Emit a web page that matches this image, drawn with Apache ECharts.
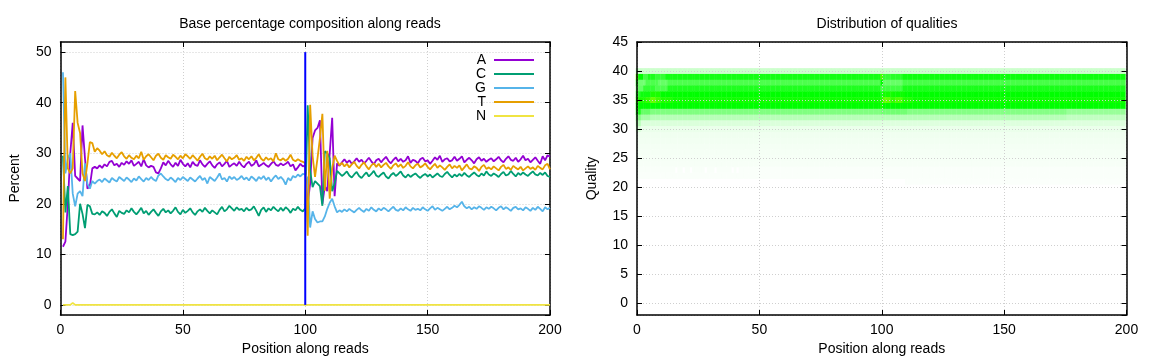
<!DOCTYPE html>
<html><head><meta charset="utf-8">
<script src="https://cdn.jsdelivr.net/npm/echarts@6/dist/echarts.min.js"></script>
<style>html,body{margin:0;padding:0;background:#fff}#c{width:1152px;height:360px}</style>
</head><body><div id="c"></div>
<script>
// ---------- Base composition data (positions 1..200) ----------
const firstPosition = 1;
const baseNames = ['A', 'C', 'G', 'T', 'N'];
const readBoundary = [100];

const baseA = [
11.5,12.5,20,30,36,25.5,25,24.5,35.5,29,23,23.5,27,27.3,27,
27.6,27.1,27.8,27.4,28.3,28.5,27.6,27.9,27.3,28.1,27.7,28.4,27.9,28.6,27.5,
27.9,28.3,27.4,28.8,27.6,27.2,27.5,27.3,26.2,26.0,27.0,28.2,27.6,28.5,27.8,
27.3,28.1,27.5,28.7,27.9,27.4,28.0,27.2,28.3,27.7,27.5,28.6,27.8,27.3,27.9,
28.4,27.6,27.1,27.8,28.2,27.4,27.9,28.5,27.3,27.7,28.0,27.5,28.3,27.6,27.2,
27.9,28.3,27.5,27.8,28.6,27.4,27.7,28.1,27.6,27.3,27.9,28.4,27.7,27.5,28.0,
27.6,27.9,28.3,27.4,27.8,26.6,27.2,27.9,27.4,27.6,
20,24,33,34.5,35,36.5,20,23.5,22.5,30,37,21.5,28,27.5,28.2,
28.8,28.1,28.6,27.9,28.4,29.0,28.3,28.7,28.0,28.5,29.1,28.4,27.8,28.6,28.9,
28.2,28.8,29.3,28.5,28.0,28.7,29.2,28.4,28.9,28.3,28.6,29.4,28.1,28.7,28.5,
28.0,28.8,29.1,28.4,28.6,27.9,28.5,29.2,28.7,29.5,28.3,28.8,29.0,28.4,28.6,
29.3,28.5,28.9,29.4,28.2,28.7,29.1,28.6,28.0,28.8,29.2,28.5,28.9,28.3,28.7,
29.0,28.4,28.8,29.3,28.6,28.2,28.9,29.4,28.7,28.5,29.1,28.3,28.8,29.5,28.6,
28.9,28.2,28.7,29.2,28.5,27.9,29.4,28.6,29.6,29.3
];
const baseC = [
29.5,18.3,23.5,14,13.8,14,14.5,20,18,15.2,19.8,19.5,18,17.9,18.3,
17.8,18.5,18.2,17.6,18.4,18.9,18.1,17.4,18.6,18.2,18.0,18.7,18.3,19.1,18.4,
17.9,18.5,19.2,18.1,18.6,17.8,18.4,18.9,18.2,17.6,18.5,19.0,18.3,18.7,18.1,
18.6,19.3,18.4,17.9,18.8,18.2,18.6,19.1,18.3,17.8,18.5,18.9,18.4,19.2,18.6,
18.1,18.7,18.3,17.9,18.8,19.4,18.5,18.9,19.6,19.1,18.6,19.3,18.8,19.0,18.5,
19.2,18.7,18.9,19.5,18.6,17.6,18.8,19.3,18.4,19.1,18.7,19.4,18.9,18.5,19.2,
18.6,19.3,18.9,18.2,19.0,18.7,19.4,18.8,18.5,19.1,
39.5,26.6,23.3,24.5,24,23.5,19.6,30.4,30,29,22.5,24,26.5,26,25.5,
25.9,26.4,25.6,25.2,25.8,26.3,25.5,25.1,25.7,26.2,25.4,25.9,26.5,25.6,25.3,
25.8,26.2,25.4,25.0,25.7,26.1,25.5,25.9,26.4,25.6,25.2,25.8,25.3,25.7,26.0,
25.5,25.1,25.6,25.9,25.4,25.8,25.2,25.6,26.0,25.5,25.3,25.9,26.3,25.7,25.2,
25.8,25.4,25.9,25.5,26.1,25.6,25.3,25.8,26.2,25.7,25.4,26.0,25.6,26.4,25.8,
25.5,26.0,25.7,25.3,25.9,26.3,25.6,25.8,26.5,25.9,25.4,26.1,25.7,26.2,25.8,
25.5,26.0,26.4,25.8,25.6,26.1,25.7,26.2,25.5,25.3
];
const baseG = [
46,26,29,30,22,19.5,22,22.5,21.5,28,24,23,24.5,24,24.5,
24.8,24.3,25.0,24.6,24.2,25.1,24.7,24.4,25.3,24.9,24.5,25.2,24.8,24.3,25.0,
24.6,25.4,24.9,24.4,25.1,24.7,25.3,24.8,24.5,25.6,26.0,25.4,24.9,24.6,25.2,
24.8,24.3,25.1,24.7,25.3,24.9,24.5,25.2,24.8,24.4,25.0,25.5,24.7,25.1,24.0,
25.3,24.9,24.5,25.2,26.0,24.8,25.1,24.4,25.4,24.9,25.3,24.7,25.0,25.5,24.8,
25.2,24.6,25.4,25.0,24.5,25.3,24.9,25.5,24.7,25.2,24.4,25.1,25.6,24.9,25.3,
24.8,23.8,25.1,24.6,25.5,25.2,25.8,25.4,25.9,25.8,
25,15.3,18.5,17,16.3,16.5,16.5,17.5,19,20.2,21,19.5,18.3,18.7,18.4,
18.9,18.5,19.0,18.6,18.3,18.8,19.2,18.7,18.4,19.0,18.6,19.3,18.8,18.5,19.1,
18.7,19.2,18.9,18.5,19.0,19.4,18.8,18.6,19.1,18.7,19.3,18.9,18.6,19.2,18.8,
19.0,18.7,19.3,18.9,18.6,19.1,19.5,18.8,19.2,18.9,18.6,19.0,19.4,18.9,19.2,
19.6,19.3,19.8,20.4,19.5,19.1,19.4,18.9,19.3,19.0,19.5,19.2,18.8,19.3,19.0,
19.4,19.1,18.7,19.2,19.5,18.9,19.3,19.0,18.6,19.2,19.4,18.9,19.1,18.7,19.3,
19.0,18.6,19.2,18.8,19.4,19.0,18.5,19.3,18.9,19.2
];
const baseT = [
13,45,27,26,27,42.3,36,34,26,24.5,28,32.2,32,30.3,31,
30.5,29.8,30.4,29.6,29.3,30.1,29.5,29.0,29.7,30.2,29.4,28.9,29.6,29.1,28.8,
29.5,29.0,30.3,28.7,29.4,29.8,29.2,28.6,29.5,29.9,29.1,28.7,29.6,29.2,28.9,
29.7,29.3,28.8,29.5,29.0,29.8,29.4,28.9,29.6,29.1,28.5,29.3,29.9,29.0,28.7,
29.4,28.9,29.5,28.6,29.2,29.7,29.0,28.4,29.3,28.8,29.1,29.6,28.7,29.0,28.5,
29.3,28.8,29.4,28.6,29.1,29.8,28.9,28.5,29.2,28.7,29.0,28.4,30.0,28.8,28.6,
29.0,28.5,28.9,29.7,28.7,28.4,28.8,28.5,28.3,28.0,
13.7,39.6,29.5,25.3,29,33,37.8,22.6,30.5,21,27,29.5,28.5,27.6,28.1,
27.4,27.9,27.2,27.8,28.3,27.5,27.0,27.7,28.2,27.4,26.8,27.6,28.0,27.3,27.9,
27.2,27.7,28.1,27.4,26.9,27.6,28.0,27.3,27.8,27.1,27.5,28.2,27.4,27.0,27.6,
27.9,27.2,27.5,28.0,27.3,26.8,27.4,27.9,27.1,27.6,27.2,26.7,27.3,27.8,27.0,
27.5,27.1,27.6,26.6,27.2,27.8,27.0,26.8,27.4,27.1,26.5,27.3,27.7,26.9,27.2,
26.8,27.4,27.0,26.6,27.3,27.7,26.9,27.2,26.7,27.5,27.1,26.8,27.3,26.6,27.0,
27.4,26.9,27.2,26.7,27.5,27.1,26.8,27.6,27.9,26.8
];
const baseN = [
0,0,0,0,0.4,0,0,0,0,0, 0,0,0,0,0,0,0,0,0,0,
0,0,0,0,0,0,0,0,0,0, 0,0,0,0,0,0,0,0,0,0,
0,0,0,0,0,0,0,0,0,0, 0,0,0,0,0,0,0,0,0,0,
0,0,0,0,0,0,0,0,0,0, 0,0,0,0,0,0,0,0,0,0,
0,0,0,0,0,0,0,0,0,0, 0,0,0,0,0,0,0,0,0,0,
0,0,0,0,0,0,0,0,0,0, 0,0,0,0,0,0,0,0,0,0,
0,0,0,0,0,0,0,0,0,0, 0,0,0,0,0,0,0,0,0,0,
0,0,0,0,0,0,0,0,0,0, 0,0,0,0,0,0,0,0,0,0,
0,0,0,0,0,0,0,0,0,0, 0,0,0,0,0,0,0,0,0,0,
0,0,0,0,0,0,0,0,0,0, 0,0,0,0,0,0,0,0,0,0
];
const baseColors = ['#9400d3', '#009e73', '#56b4e9', '#e69f00', '#f0e442'];

// ---------- Quality distribution (positions 0..199) ----------
const heatQualities = [40,39,38,37,36,35,34,33,32,31,30,29,28,27,26,25,24,23,22,21];
const heatRuns = [
 [[0,0,0.3],[1,199,0.2]],
 [[0,0,1.4],[1,2,1.0],[3,4,0.75],[5,7,0.9],[8,11,0.8],[12,99,0.93],[100,100,1.3],[101,103,0.8],[104,108,0.85],[109,199,0.95]],
 [[0,0,0.9],[1,3,0.55],[4,8,0.7],[9,12,0.6],[13,99,0.7],[100,100,1.0],[101,108,0.6],[109,199,0.72]],
 [[0,2,0.6],[3,7,0.8],[8,12,0.7],[13,99,0.88],[100,100,0.7],[101,108,0.75],[109,199,0.9]],
 [[0,1,0.85],[2,5,0.95],[6,9,1.1],[10,99,1.0],[100,100,0.9],[101,104,1.08],[105,109,1.04],[110,199,1.0]],
 [[0,0,1.15],[1,3,1.1],[4,5,1.2],[6,7,1.4],[8,9,1.25],[10,14,1.12],[15,99,1.06],[100,100,1.15],[101,103,1.38],[104,105,1.2],[106,108,1.3],[109,112,1.12],[113,199,1.05]],
 [[0,2,1.0],[3,99,1.0],[100,100,1.08],[101,199,1.0]],
 [[0,1,0.9],[2,5,0.6],[6,99,0.5],[100,110,0.55],[111,175,0.48],[176,199,0.4]],
 [[0,1,0.5],[2,5,0.35],[6,99,0.28],[100,175,0.28],[176,199,0.24]],
 [[0,1,0.3],[2,99,0.14],[100,199,0.13]],
 [[0,1,0.15],[2,199,0.08]],
 [[0,199,0.06]],
 [[0,199,0.05]],
 [[0,199,0.045]],
 [[0,199,0.04]],
 [[0,199,0.035]],
 [[0,199,0.03]],
 [[0,15,0.025],[17,18,0.025],[20,21,0.025],[23,27,0.025],[29,31,0.025],[33,38,0.025],[40,40,0.025],[42,199,0.02]],
 [[0,199,0.018]],
 [[110,199,0.015]]
];
const heatPalette = ['#ffffff', '#00ff00', '#ffff00'];

// ---------- build ----------
const FONT = "'Liberation Sans', Arial, Helvetica, sans-serif";
const heatData = [];
heatQualities.forEach((q, r) => heatRuns[r].forEach(([a, b, v]) => {
  for (let p = a; p <= b; p++) heatData.push([p, q, v]);
}));

const txt = { color: '#000', fontSize: 14, fontFamily: FONT };
const gridLine = { show: true, lineStyle: { color: '#cfcfcf', type: [1, 2], width: 1 } };
const axLine = { show: true, onZero: false, lineStyle: { color: '#000', width: 1.5 } };
const axTick = { show: true, inside: true, length: 5, lineStyle: { color: '#000', width: 1 } };

function xAx(gi, pos, zl) {
  const main = pos === 'bottom';
  return { type: 'value', gridIndex: gi, position: pos, min: 0, max: 200, minInterval: 50, maxInterval: 50, zlevel: zl,
    axisLine: axLine, axisTick: axTick,
    axisLabel: { show: main, margin: 8, ...txt },
    splitLine: main ? gridLine : { show: false },
    name: main ? 'Position along reads' : '', nameLocation: 'middle', nameGap: 26, nameTextStyle: txt };
}
function yAx(gi, pos, min, max, step, name, gap, zl) {
  const main = pos === 'left';
  return { type: 'value', gridIndex: gi, position: pos, min: min, max: max, minInterval: step, maxInterval: step, zlevel: zl,
    axisLine: axLine, axisTick: axTick,
    axisLabel: { show: main, margin: 9, showMinLabel: false, ...txt },
    splitLine: main ? gridLine : { show: false },
    name: main ? name : '', nameLocation: 'middle', nameGap: gap, nameRotate: 90, nameTextStyle: txt };
}

const series = [];
[baseA, baseC, baseG, baseT, baseN].forEach((vals, k) => {
  series.push({ name: baseNames[k], type: 'line', xAxisIndex: 0, yAxisIndex: 0, symbol: 'none', showSymbol: false,
    color: baseColors[k], lineStyle: { width: 1.8, color: baseColors[k] }, z: 3 + k,
    data: vals.map((v, i) => [i + firstPosition, v]) });
});
series.push({ name: 'boundary', type: 'line', xAxisIndex: 0, yAxisIndex: 0, symbol: 'none', z: 10,
  lineStyle: { width: 2, color: '#0000ff' }, color: '#0000ff',
  data: [[readBoundary[0], 0], [readBoundary[0], 50]] });
series.push({ name: 'qual', type: 'custom', xAxisIndex: 2, yAxisIndex: 2, clip: true, z: 2,
  encode: { x: 0, y: 1 },
  renderItem: function (params, api) {
    const x = api.value(0), q = api.value(1);
    const p0 = api.coord([x - 0.5, q + 0.5]);
    const p1 = api.coord([x + 0.5, q - 0.5]);
    return { type: 'rect', shape: { x: p0[0], y: p0[1], width: p1[0] - p0[0] + 0.4, height: p1[1] - p0[1] + 0.4 },
      style: { fill: api.visual('color') } };
  },
  data: heatData });

const chart = echarts.init(document.getElementById('c'), null, { renderer: 'canvas' });
chart.setOption({
  animation: false,
  backgroundColor: '#fff',
  title: [
    { text: 'Base percentage composition along reads', left: 305, top: 12, textAlign: 'center', textStyle: { ...txt, fontWeight: 'normal' } },
    { text: 'Distribution of qualities', left: 882, top: 12, textAlign: 'center', textStyle: { ...txt, fontWeight: 'normal' } }
  ],
  legend: { data: baseNames.map(n => ({ name: n, icon: 'rect' })), orient: 'vertical', right: 613, top: 48, align: 'right',
    itemWidth: 40, itemHeight: 2, itemGap: 0,
    textStyle: { ...txt, fontSize: 14, lineHeight: 14, padding: [0, 3, 0, 0] } },
  visualMap: { type: 'continuous', show: false, seriesIndex: 6, dimension: 2, min: 0, max: 2, inRange: { color: heatPalette } },
  grid: [
    { left: 60.5, right: 602, top: 42, bottom: 45, outerBoundsMode: 'none' },
    { left: 637, right: 25.5, top: 42, bottom: 45, outerBoundsMode: 'none' }
  ],
  xAxis: [xAx(0, 'bottom', 0), xAx(0, 'top', 0), xAx(1, 'bottom', 1), xAx(1, 'top', 1)],
  yAxis: [yAx(0, 'left', -2, 52, 10, 'Percent', 38, 0), yAx(0, 'right', -2, 52, 10, '', 0, 0),
          yAx(1, 'left', -2, 45, 5, 'Quality', 38, 1), yAx(1, 'right', -2, 45, 5, '', 0, 1)],
  series: series
});
</script></body></html>
